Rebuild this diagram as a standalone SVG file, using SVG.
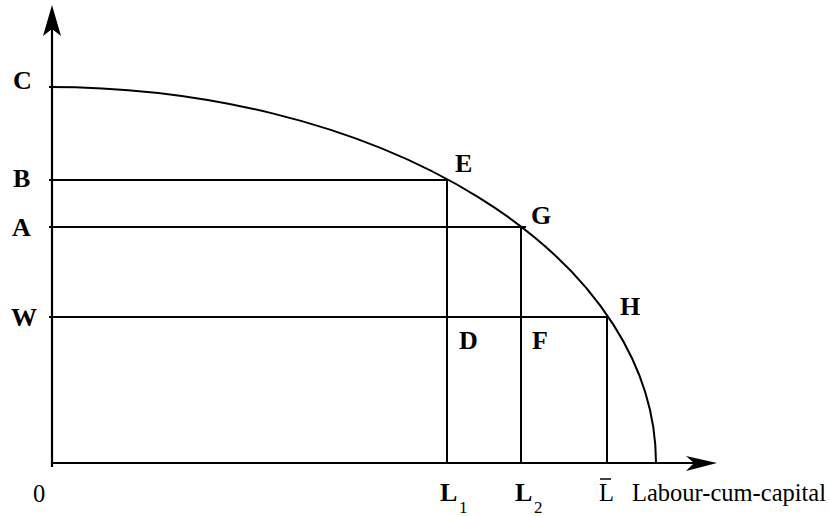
<svg xmlns="http://www.w3.org/2000/svg" width="829" height="516" viewBox="0 0 829 516">
<style>
.ln{stroke:#000;stroke-width:2;fill:none}
.ax{stroke:#000;stroke-width:2.2;fill:none}
.lb{font-family:"Liberation Serif","Times New Roman",serif;font-weight:bold;font-size:26px;fill:#000}
.rg{font-family:"Liberation Serif","Times New Roman",serif;font-size:24.5px;fill:#000}
.sb{font-family:"Liberation Serif","Times New Roman",serif;font-size:17px;fill:#000}
</style>
<rect width="829" height="516" fill="#fff"/>
<g id="connectors">
<line class="ax" x1="52" y1="467" x2="52" y2="20"/>
<polygon points="52,5 61,36 52,29 43,36" fill="#000"/>
<line class="ax" x1="51" y1="463" x2="700" y2="463"/>
<polygon points="717,463 686,456 694,463 686,471" fill="#000"/>
<path class="ln" d="M49 87 A607 376 0 0 1 656 463"/>
<line class="ln" x1="49" y1="180" x2="447" y2="180"/>
<line class="ln" x1="49" y1="227" x2="526" y2="227"/>
<line class="ln" x1="49" y1="317" x2="608" y2="317"/>
<line class="ln" x1="447" y1="180" x2="447" y2="463"/>
<line class="ln" x1="521" y1="227" x2="521" y2="463"/>
<line class="ln" x1="607" y1="317" x2="607" y2="463"/>
</g>
<g id="C"><text class="lb" x="13" y="89">C</text></g>
<g id="B"><text class="lb" x="13" y="187">B</text></g>
<g id="A"><text class="lb" x="12" y="236">A</text></g>
<g id="W"><text class="lb" x="11" y="326">W</text></g>
<g id="E"><text class="lb" x="455" y="172">E</text></g>
<g id="G"><text class="lb" x="531" y="224">G</text></g>
<g id="H"><text class="lb" x="620" y="315">H</text></g>
<g id="D"><text class="lb" x="459" y="349">D</text></g>
<g id="F"><text class="lb" x="532" y="349">F</text></g>
<g id="O"><text class="rg" x="33" y="502">0</text></g>
<g id="L1"><text class="lb" x="440" y="501">L</text><text class="sb" x="459" y="513">1</text></g>
<g id="L2"><text class="lb" x="515" y="501">L</text><text class="sb" x="534" y="513">2</text></g>
<g id="Lbar"><text class="rg" x="599" y="501">L</text><line x1="600" y1="479" x2="611" y2="479" stroke="#000" stroke-width="1.5"/></g>
<g id="axis-label"><text class="rg" x="632" y="501">Labour-cum-capital</text></g>
</svg>
